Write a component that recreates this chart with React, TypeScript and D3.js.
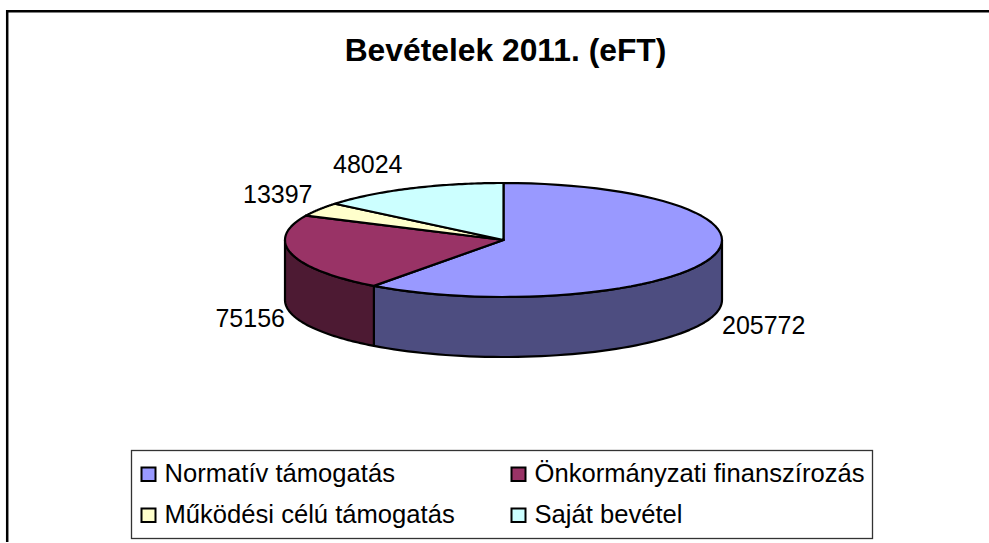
import React from 'react';
import * as d3 from 'd3';

const categories = ['Normatív támogatás', 'Önkormányzati finanszírozás', 'Működési célú támogatás', 'Saját bevétel'];
const values = [205772, 75156, 13397, 48024];
const topColours = ['#9999FF', '#993366', '#FFFFCC', '#CCFFFF'];
const sideColours = ['#4D4D80', '#4D1A33', '#808066', '#668080'];

const width = 989;
const height = 543;
const cx = 503.5;
const cy = 240;
const rx = 218.5;
const ry = 57;
const depth = 60;
const font = '"Liberation Sans", Arial, sans-serif';

const pie = d3.pie<number>().sort(null)(values);

// ellipse: angle measured clockwise from 12 o'clock
const px = (a: number) => cx + rx * Math.sin(a);
const py = (a: number) => cy - ry * Math.cos(a);

function topPath(start: number, end: number) {
  const steps = d3.range(0, 61).map(i => start + ((end - start) * i) / 60);
  return d3.line<number>().x(px).y(py)(steps) + `L${cx},${cy}Z`;
}

function wallPath(start: number, end: number) {
  const steps = d3.range(0, 61).map(i => start + ((end - start) * i) / 60);
  return d3.area<number>().x(px).y0(py).y1(a => py(a) + depth)(steps) as string;
}

const labels = [
  { t: '205772', x: 722, y: 333.5, anchor: 'start' },
  { t: '75156', x: 285, y: 327, anchor: 'end' },
  { t: '13397', x: 243, y: 203, anchor: 'start' },
  { t: '48024', x: 333, y: 173, anchor: 'start' },
];

const legendCols = [141.5, 511.5];
const legendRows = [467.5, 508.5];

export default function App() {
  return (
    <svg width={width} height={height} style={{ position: 'absolute', left: 0, top: 0, background: '#fff' }}>
      <path d={`M7.2,${height - 1}V11.3H${width}`} fill="none" stroke="#000" strokeWidth={2.5} />
      <text x={505.5} y={61} textAnchor="middle" fontFamily={font} fontWeight="bold" fontSize={31.8}>
        Bevételek 2011. (eFT)
      </text>

      {pie.map((d, i) => {
        const start = Math.max(d.startAngle, Math.PI / 2);
        const end = Math.min(d.endAngle, (3 * Math.PI) / 2);
        if (end <= start) return null;
        return <path key={i} d={wallPath(start, end)} fill={sideColours[i]} stroke="#000" strokeWidth={2.2} strokeLinejoin="round" />;
      })}
      {pie.map((d, i) => (
        <path key={i} d={topPath(d.startAngle, d.endAngle)} fill={topColours[i]} stroke="#000" strokeWidth={2.2} strokeLinejoin="round" />
      ))}

      {labels.map(l => (
        <text key={l.t} x={l.x} y={l.y} textAnchor={l.anchor as any} fontFamily={font} fontSize={25}>
          {l.t}
        </text>
      ))}

      <rect x={131.5} y={450.5} width={741} height={88} fill="#fff" stroke="#333" strokeWidth={1.3} />
      {categories.map((c, i) => {
        const x = legendCols[i % 2];
        const y = legendRows[Math.floor(i / 2)];
        return (
          <g key={c}>
            <rect x={x} y={y} width={14} height={13.5} fill={topColours[i]} stroke="#000" strokeWidth={2} />
            <text x={x + 23} y={y + 14} fontFamily={font} fontSize={25.6}>
              {c}
            </text>
          </g>
        );
      })}
    </svg>
  );
}
